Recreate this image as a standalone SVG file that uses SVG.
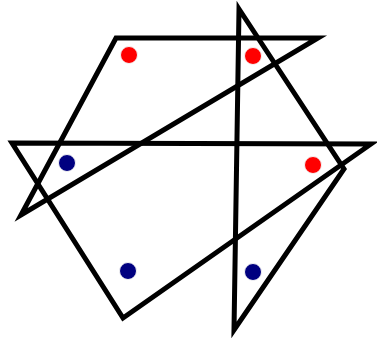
<svg xmlns="http://www.w3.org/2000/svg" width="377" height="346" viewBox="0 0 377 346">
<style>
.tri{fill:none;stroke:#000;stroke-width:5;stroke-linejoin:miter;stroke-miterlimit:10}
.r{fill:#ff0000;stroke:#f4f4f4;stroke-width:1}
.b{fill:#000080;stroke:#f4f4f4;stroke-width:1}
</style>
<rect width="377" height="346" fill="#fff"/>
<g id="connectors">
<polygon id="tri1" class="tri" points="116,38 318,38 21,215"/>
<polygon id="tri2" class="tri" points="12,143 371,144 123,318"/>
<polygon id="tri3" class="tri" points="239,9 344,169 234,330"/>
</g>
<g id="dot1"><circle class="r" cx="129" cy="55" r="8.5"/></g>
<g id="dot2"><circle class="r" cx="253" cy="56" r="8.5"/></g>
<g id="dot3"><circle class="r" cx="313" cy="165" r="8.5"/></g>
<g id="dot4"><circle class="b" cx="67" cy="163" r="8.5"/></g>
<g id="dot5"><circle class="b" cx="128" cy="271" r="8.5"/></g>
<g id="dot6"><circle class="b" cx="253" cy="272" r="8.5"/></g>
</svg>
